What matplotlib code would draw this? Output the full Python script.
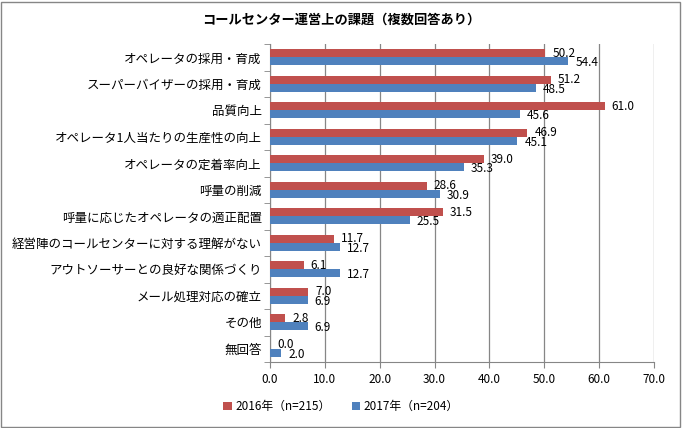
import numpy as np
import matplotlib
matplotlib.use("Agg")
import matplotlib.pyplot as plt
from matplotlib.ticker import FixedLocator

plt.rcParams['font.family'] = ['Noto Sans CJK JP', 'DejaVu Sans']

categories = [
    "オペレータの採用・育成",
    "スーパーバイザーの採用・育成",
    "品質向上",
    "オペレータ1人当たりの生産性の向上",
    "オペレータの定着率向上",
    "呼量の削減",
    "呼量に応じたオペレータの適正配置",
    "経営陣のコールセンターに対する理解がない",
    "アウトソーサーとの良好な関係づくり",
    "メール処理対応の確立",
    "その他",
    "無回答",
]
values_2016 = [50.2, 51.2, 61.0, 46.9, 39.0, 28.6, 31.5, 11.7, 6.1, 7.0, 2.8, 0.0]
values_2017 = [54.4, 48.5, 45.6, 45.1, 35.3, 30.9, 25.5, 12.7, 12.7, 6.9, 6.9, 2.0]
labels = ["2016年（n=215）", "2017年（n=204）"]

red = "#C0504D"
blue = "#4F81BD"

fig = plt.figure(figsize=(6.82, 4.28), dpi=100)
ax = fig.add_axes([0.396, 0.154, 0.563, 0.743])

y = np.arange(len(categories))
h = 0.3
b1 = ax.barh(y - h / 2, values_2016, height=h, color=red, label=labels[0], zorder=3)
b2 = ax.barh(y + h / 2, values_2017, height=h, color=blue, label=labels[1], zorder=3)

for bars, vals, dy in ((b1, values_2016, 0), (b2, values_2017, -1)):
    for bar, v in zip(bars, vals):
        ax.annotate(f"{v:.1f}", (v, bar.get_y() + bar.get_height() / 2),
                    xytext=(5, dy), textcoords="offset points",
                    ha="left", va="center", fontsize=8.5, zorder=4)

ax.set_xlim(0, 70)
ax.set_ylim(len(categories) - 0.5, -0.5)
ax.set_xticks(np.arange(0, 71, 10))
ax.set_xticklabels([f"{t:.1f}" for t in range(0, 71, 10)], fontsize=8.5)
ax.set_yticks(y)
ax.set_yticklabels(categories, fontsize=9)
ax.yaxis.set_minor_locator(FixedLocator(np.arange(-0.5, len(categories), 1)))
ax.tick_params(axis="y", which="major", length=0, pad=6)
ax.tick_params(axis="y", which="minor", length=4, color="#868686")
ax.tick_params(axis="x", length=4, color="#868686")
ax.grid(axis="x", color="#868686", linewidth=0.9, zorder=0)
for s in ("top", "right"):
    ax.spines[s].set_visible(False)
for s in ("left", "bottom"):
    ax.spines[s].set_color("#868686")

fig.text(0.5, 0.955, "コールセンター運営上の課題（複数回答あり）", ha="center", va="center",
         fontsize=9.5, fontweight="bold")
fig.legend(handles=[b1, b2], loc="center", bbox_to_anchor=(0.5, 0.05), ncol=2,
           frameon=False, fontsize=8.5, handlelength=0.7, handleheight=0.7,
           columnspacing=1.8, handletextpad=0.3)

fig.patches.append(plt.Rectangle((0.002, 0.003), 0.995, 0.993, transform=fig.transFigure,
                                 fill=False, edgecolor="#868686", linewidth=1))

fig.savefig("out.png", dpi=100)
